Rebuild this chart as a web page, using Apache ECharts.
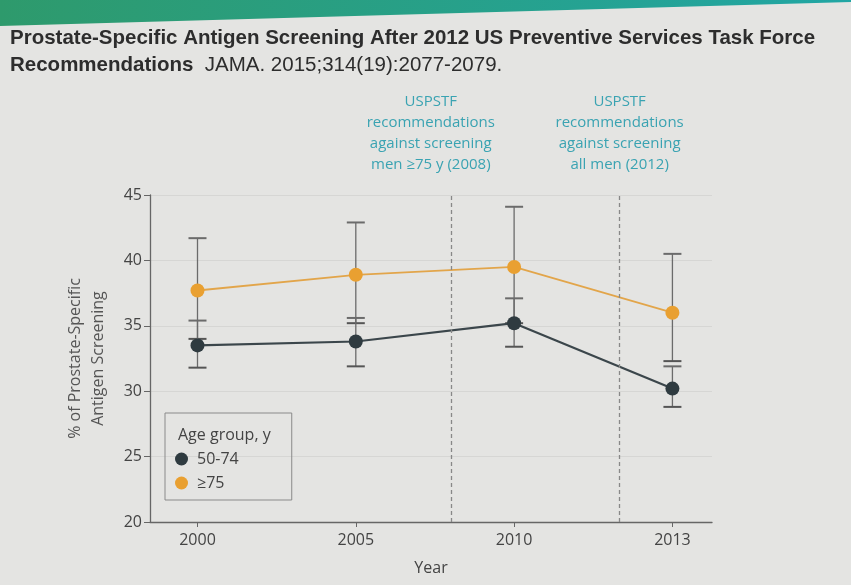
<!DOCTYPE html>
<html>
<head>
<meta charset="utf-8">
<script src="https://cdn.jsdelivr.net/npm/echarts@6/dist/echarts.min.js"></script>
<style>
  html, body { margin: 0; padding: 0; background: #e4e4e2; }
  #chart { width: 851px; height: 585px; }
</style>
</head>
<body>
<div id="chart"></div>
<script>
// survey years, shown as evenly spaced slots
var years = [2000, 2005, 2010, 2013];

// 50-74 y: point estimate and 95% CI
var young = [33.5, 33.8, 35.2, 30.2];
var youngLow = [31.8, 31.9, 33.4, 28.8];
var youngHigh = [35.4, 35.6, 37.1, 31.9];

// >=75 y
var old = [37.7, 38.9, 39.5, 36.0];
var oldLow = [34.0, 35.2, 35.2, 32.3];
var oldHigh = [41.7, 42.9, 44.1, 40.5];

var policyYears = [2008, 2012];
var policyNotes = [
  'USPSTF\nrecommendations\nagainst screening\nmen \u226575 y (2008)',
  'USPSTF\nrecommendations\nagainst screening\nall men (2012)'
];
var noteShift = [-20, 0];

// position of a year between the evenly spaced survey slots
function slotOf(y) {
  for (var i = 0; i < years.length - 1; i++) {
    if (y >= years[i] && y <= years[i + 1]) {
      return i + (y - years[i]) / (years[i + 1] - years[i]);
    }
  }
  return years.length - 1;
}

var idx = years.map(function (y, i) { return i; });

function errData(low, high) {
  return idx.map(function (i) { return [i, low[i], high[i]]; });
}

function renderErr(params, api) {
  var top = api.coord([api.value(0), api.value(2)]);
  var bot = api.coord([api.value(0), api.value(1)]);
  var w = 9;
  return {
    type: 'group',
    children: [
      { type: 'line', shape: { x1: top[0], y1: top[1], x2: bot[0], y2: bot[1] }, style: { stroke: '#6b6b6b', lineWidth: 1.3 } },
      { type: 'line', shape: { x1: top[0] - w, y1: top[1], x2: top[0] + w, y2: top[1] }, style: { stroke: '#6b6b6b', lineWidth: 2 } },
      { type: 'line', shape: { x1: bot[0] - w, y1: bot[1], x2: bot[0] + w, y2: bot[1] }, style: { stroke: '#555', lineWidth: 2 } }
    ]
  };
}

var dom = document.getElementById('chart');
var myChart = echarts.init(dom, null, { renderer: 'canvas' });

var markData = policyYears.map(function (y, i) {
  return [
    { coord: [slotOf(y), 20] },
    {
      coord: [slotOf(y), 45],
      label: {
        show: true,
        position: 'end',
        distance: 20,
        offset: [noteShift[i], 0],
        formatter: policyNotes[i],
        color: '#3aa3b2',
        fontFamily: 'Open Sans',
        fontSize: 15,
        lineHeight: 21,
        align: 'center'
      }
    }
  ];
});

var option = {
  backgroundColor: '#e4e4e2',
  textStyle: { fontFamily: 'Open Sans' },
  graphic: [
    {
      type: 'polygon',
      shape: { points: [[0, 0], [851, 0], [851, 2], [0, 26]] },
      style: {
        fill: new echarts.graphic.LinearGradient(0, 0, 1, 0, [
          { offset: 0, color: '#2e9a6c' },
          { offset: 1, color: '#21a6a4' }
        ])
      }
    },
    {
      type: 'text',
      left: 10,
      top: 28,
      style: {
        text: 'Prostate-Specific Antigen Screening After 2012 US Preventive Services Task Force',
        fontFamily: 'Liberation Sans',
        fontWeight: 'bold',
        fontSize: 20.5,
        fill: '#2d2d2d'
      }
    },
    {
      type: 'text',
      left: 10,
      top: 55,
      style: {
        rich: {
          b: { fontFamily: 'Liberation Sans', fontWeight: 'bold', fontSize: 20.5, fill: '#2d2d2d' },
          n: { fontFamily: 'Liberation Sans', fontSize: 20.5, fill: '#2d2d2d' }
        },
        text: '{b|Recommendations}{n|  JAMA. 2015;314(19):2077-2079.}'
      }
    },
    {
      type: 'text',
      left: 178,
      top: 427,
      style: { text: 'Age group, y', fontFamily: 'Open Sans', fontSize: 16, fill: '#444' }
    }
  ],
  legend: {
    left: 165,
    top: 413,
    orient: 'vertical',
    data: ['50-74', '\u226575'],
    icon: 'circle',
    itemWidth: 13,
    itemHeight: 13,
    itemGap: 8,
    padding: [38, 53, 9, 10],
    borderColor: '#8a8a8a',
    borderWidth: 1,
    textStyle: { fontFamily: 'Open Sans', fontSize: 16, color: '#444', padding: [0, 0, 0, 4] }
  },
  grid: { left: 150, right: 139, top: 195, bottom: 63 },
  xAxis: {
    type: 'value',
    min: -0.3,
    max: 3.25,
    name: 'Year',
    nameLocation: 'middle',
    nameGap: 38,
    nameTextStyle: { fontSize: 16, color: '#444' },
    splitLine: { show: false },
    axisLine: { show: true, onZero: false, lineStyle: { color: '#666', width: 1.3 } },
    axisTick: { show: true, customValues: idx, length: 5, lineStyle: { color: '#666' } },
    axisLabel: {
      customValues: idx,
      fontSize: 16,
      color: '#444',
      margin: 10,
      formatter: function (v) { return String(years[Math.round(v)]); }
    }
  },
  yAxis: {
    type: 'value',
    min: 20,
    max: 45,
    interval: 5,
    name: '% of Prostate-Specific\nAntigen Screening',
    nameLocation: 'middle',
    nameGap: 40,
    nameTextStyle: { fontSize: 16, color: '#555', lineHeight: 23 },
    axisLine: { show: true, onZero: false, lineStyle: { color: '#666', width: 1.3 } },
    axisTick: { show: true, length: 6, lineStyle: { color: '#666' } },
    axisLabel: { fontSize: 16, color: '#444', margin: 8 },
    splitLine: { show: true, lineStyle: { color: '#d6d6d4', width: 1 } }
  },
  series: [
    {
      name: 'err-old',
      type: 'custom',
      renderItem: renderErr,
      data: errData(oldLow, oldHigh),
      z: 1
    },
    {
      name: 'err-young',
      type: 'custom',
      renderItem: renderErr,
      data: errData(youngLow, youngHigh),
      z: 1
    },
    {
      name: '\u226575',
      type: 'line',
      data: idx.map(function (i) { return [i, old[i]]; }),
      symbol: 'circle',
      symbolSize: 14,
      itemStyle: { color: '#e9a031' },
      lineStyle: { color: '#e2a54a', width: 1.8 },
      z: 3,
      markLine: {
        silent: true,
        symbol: 'none',
        lineStyle: { color: '#888', type: [4, 3], width: 1.3 },
        data: markData
      }
    },
    {
      name: '50-74',
      type: 'line',
      data: idx.map(function (i) { return [i, young[i]]; }),
      symbol: 'circle',
      symbolSize: 14,
      itemStyle: { color: '#2f3b40' },
      lineStyle: { color: '#3b464b', width: 2.2 },
      z: 3
    }
  ]
};

myChart.setOption(option);
</script>
</body>
</html>
